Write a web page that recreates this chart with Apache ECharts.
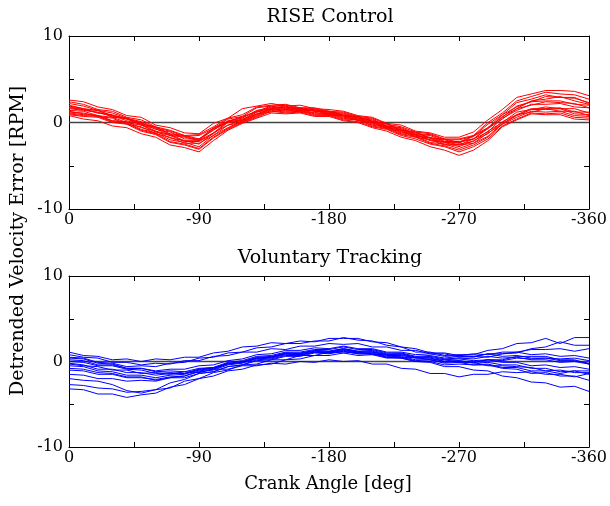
<!DOCTYPE html>
<html>
<head>
<meta charset="utf-8">
<script src="https://cdn.jsdelivr.net/npm/echarts@6/dist/echarts.min.js"></script>
<style>
  html, body { margin: 0; padding: 0; background: #fff; }
  #main { width: 610px; height: 506px; }
</style>
</head>
<body>
<div id="main"></div>
<script>
// crank angle samples (deg), plotted as negative angles
var angles = [0,10,20,30,40,50,60,70,80,90,100,110,120,130,140,150,160,170,180,190,200,210,220,230,240,250,260,270,280,290,300,310,320,330,340,350,360];
var xTickLabels = [0, -90, -180, -270, -360];
var yTickLabels = [-10, 0, 10];

// RISE control trials (RPM)
var rise1  = [2.6,2.4,1.8,1.5,0.8,0.6,-0.3,-0.6,-1.2,-1.3,-0.1,0.5,1.6,1.9,2.2,1.9,2.0,1.6,1.5,1.3,0.8,0.6,-0.1,-0.3,-1.0,-1.2,-1.7,-1.7,-1.1,0.3,1.5,2.9,3.3,3.7,3.7,3.6,3.1];
var rise2  = [0.8,0.4,0.2,-0.4,-0.6,-1.3,-1.7,-2.6,-2.9,-3.4,-2.1,-0.9,-0.1,0.5,1.1,1.0,1.1,0.7,0.7,0.2,0.0,-0.6,-1.0,-1.7,-2.1,-2.8,-3.2,-3.8,-3.2,-2.1,-0.5,0.3,1.0,0.9,0.9,0.4,0.3];
var rise3  = [1.8,1.5,1.4,0.6,0.5,-0.2,-0.5,-1.4,-1.6,-2.0,-0.6,0.1,0.6,1.3,1.9,1.6,1.7,1.4,1.3,0.8,0.7,0.1,-0.1,-0.9,-1.1,-1.8,-1.9,-2.3,-1.5,-0.6,0.9,1.8,2.4,2.5,2.5,2.1,2.0];
var rise4  = [1.2,1.1,0.7,0.5,-0.2,-0.5,-1.3,-1.7,-2.4,-2.4,-1.5,-0.3,0.0,1.0,1.2,1.5,1.2,1.2,0.8,0.8,0.2,0.0,-0.7,-1.0,-1.7,-2.0,-2.6,-2.6,-2.4,-1.2,-0.2,0.9,1.2,1.6,1.3,1.3,0.8];
var rise5  = [2.2,1.9,1.4,1.1,0.5,0.1,-0.6,-1.0,-1.6,-1.5,-0.7,0.4,0.7,1.7,1.9,2.0,1.6,1.6,1.2,1.1,0.6,0.4,-0.4,-0.6,-1.3,-1.4,-2.0,-2.0,-1.6,-0.2,0.9,2.3,2.7,3.2,2.9,2.8,2.3];
var rise6  = [1.0,0.8,0.7,0.1,-0.1,-0.9,-1.3,-2.2,-2.5,-3.0,-1.7,-0.7,0.1,0.7,1.4,1.2,1.3,0.9,0.9,0.4,0.3,-0.4,-0.7,-1.4,-1.7,-2.4,-2.7,-3.2,-2.6,-1.7,-0.2,0.6,1.3,1.2,1.3,0.8,0.7];
var rise7  = [1.6,1.4,1.2,0.7,0.4,-0.3,-0.7,-1.5,-1.7,-2.1,-0.8,0.0,0.4,1.0,1.6,1.5,1.6,1.3,1.2,0.7,0.6,-0.1,-0.4,-1.1,-1.4,-2.0,-2.2,-2.6,-1.9,-1.1,0.5,1.4,2.1,2.1,2.2,1.8,1.7];
var rise8  = [1.4,1.3,0.8,0.6,0.0,-0.3,-1.1,-1.5,-2.2,-2.2,-1.3,0.0,0.2,1.2,1.5,1.7,1.3,1.4,0.9,0.8,0.3,0.1,-0.6,-0.9,-1.6,-1.8,-2.5,-2.5,-2.2,-1.0,0.0,1.2,1.5,1.8,1.6,1.6,1.1];
var rise9  = [2.0,1.6,1.4,0.8,0.5,-0.1,-0.6,-1.3,-1.5,-1.9,-0.7,0.1,0.7,1.2,1.8,1.7,1.7,1.3,1.3,0.8,0.7,0.1,-0.2,-0.9,-1.2,-1.8,-2.0,-2.4,-1.6,-0.7,0.7,1.6,2.5,2.7,3.0,2.5,2.1];
var rise10 = [0.9,0.7,0.6,0.0,-0.2,-1.0,-1.4,-2.3,-2.6,-3.1,-1.8,-0.8,0.0,0.6,1.3,1.1,1.2,0.8,0.8,0.3,0.1,-0.5,-0.8,-1.5,-1.9,-2.5,-2.8,-3.4,-2.8,-1.9,-0.4,0.4,1.1,1.0,1.1,0.6,0.5];
var rise11 = [1.7,1.5,1.1,0.8,0.2,-0.2,-1.0,-1.4,-2.1,-2.1,-1.2,0.1,0.3,1.3,1.6,1.8,1.4,1.4,1.0,0.9,0.4,0.2,-0.5,-0.8,-1.5,-1.7,-2.3,-2.3,-1.9,-0.7,0.4,1.6,2.0,2.4,2.3,2.2,1.7];
var rise12 = [1.3,1.0,0.8,0.2,0.1,-0.6,-1.0,-1.8,-2.1,-2.5,-1.2,-0.3,0.3,0.9,1.6,1.4,1.5,1.1,1.1,0.6,0.4,-0.2,-0.5,-1.2,-1.4,-2.1,-2.3,-2.8,-2.1,-1.3,0.1,0.9,1.6,1.6,1.7,1.2,1.2];
var rise13 = [2.4,2.1,1.5,1.3,0.6,0.3,-0.5,-0.9,-1.5,-1.4,-0.5,0.5,0.9,1.8,2.0,2.1,1.7,1.7,1.3,1.2,0.7,0.5,-0.2,-0.5,-1.1,-1.3,-1.9,-1.9,-1.5,0.0,1.1,2.5,3.0,3.5,3.3,3.2,2.7];
var rise14 = [1.1,0.9,0.8,0.2,0.0,-0.8,-1.2,-2.0,-2.3,-2.8,-1.5,-0.6,0.2,0.8,1.5,1.3,1.4,1.0,1.0,0.5,0.3,-0.3,-0.6,-1.3,-1.6,-2.3,-2.5,-3.0,-2.4,-1.6,-0.1,0.8,1.5,1.5,1.6,1.0,0.9];
var rise15 = [1.9,1.6,1.1,0.9,0.4,0.0,-0.8,-1.1,-1.9,-1.9,-0.9,0.2,0.5,1.4,1.7,1.9,1.5,1.5,1.1,1.0,0.5,0.3,-0.4,-0.7,-1.4,-1.5,-2.2,-2.2,-1.9,-0.6,0.6,1.9,2.4,3.0,2.9,2.9,2.2];

// voluntary tracking trials (RPM)
var vol1  = [0.5,0.4,-0.1,-0.2,-0.6,-0.5,-0.6,-0.2,-0.1,0.4,0.5,1.0,1.1,1.6,1.7,2.1,2.1,2.4,2.4,2.8,2.5,2.4,1.9,1.7,1.1,1.1,0.7,0.8,0.8,1.3,1.5,2.1,2.2,2.7,2.1,2.8,2.8];
var vol2  = [-3.2,-3.3,-3.8,-3.8,-4.2,-3.9,-3.7,-3.0,-2.7,-2.0,-1.7,-1.1,-0.9,-0.4,-0.3,0.2,0.3,0.7,0.7,1.0,0.7,0.8,0.4,0.4,0.0,0.0,-0.4,-0.3,-0.4,-0.4,-0.8,-0.9,-1.4,-1.3,-1.7,-1.7,-2.2];
var vol3  = [-2.7,-2.8,-3.1,-3.2,-3.6,-3.5,-3.3,-2.5,-2.1,-1.4,-1.2,-0.6,-0.4,0.1,0.2,0.6,0.6,1.0,0.9,1.2,0.9,0.9,0.5,0.4,0.0,-0.1,-0.6,-0.6,-1.0,-1.1,-1.7,-1.9,-2.4,-2.5,-3.0,-2.9,-3.5];
var vol4  = [-2.0,-2.2,-2.3,-2.7,-3.4,-3.7,-3.3,-3.1,-2.3,-2.0,-1.3,-1.0,-0.4,-0.3,0.2,0.2,0.7,0.7,1.1,1.0,1.1,0.8,0.8,0.4,0.5,0.2,0.2,-0.1,-0.1,-0.5,-0.5,-0.6,-0.7,-1.1,-1.0,-1.3,-1.3];
var vol5  = [1.1,0.7,0.6,0.2,0.3,0.0,0.3,0.2,0.5,0.5,1.0,1.2,1.7,1.8,2.2,2.1,2.4,2.3,2.7,2.7,2.7,2.3,2.2,1.7,1.5,1.0,1.0,0.7,0.9,0.8,1.1,1.1,1.4,1.4,1.5,1.2,1.5];
var vol6  = [0.0,-0.1,-0.5,-0.5,-0.9,-1.0,-1.4,-1.3,-1.4,-0.9,-0.7,-0.1,0.1,0.6,0.7,1.1,1.1,1.4,1.4,1.7,1.4,1.4,1.0,1.0,0.6,0.7,0.4,0.6,0.5,0.9,0.9,1.1,0.8,0.9,0.6,0.7,0.4];
var vol7  = [-0.5,-0.6,-1.1,-1.2,-1.6,-1.6,-1.9,-1.6,-1.5,-1.0,-0.8,-0.3,-0.1,0.4,0.5,1.0,0.9,1.2,1.1,1.4,1.1,1.1,0.7,0.7,0.4,0.4,0.0,0.1,-0.2,-0.1,-0.4,-0.4,-0.8,-0.8,-1.2,-1.1,-1.5];
var vol8  = [0.4,0.3,-0.2,-0.3,-0.8,-0.8,-1.2,-1.1,-1.2,-0.8,-0.7,-0.2,0.0,0.5,0.6,1.0,1.0,1.3,1.2,1.5,1.2,1.2,0.8,0.9,0.5,0.6,0.3,0.4,0.3,0.6,0.4,0.5,0.2,0.2,-0.1,0.0,-0.3];
var vol9  = [-1.0,-1.1,-1.5,-1.5,-1.9,-1.9,-2.1,-1.8,-1.7,-1.2,-1.0,-0.4,-0.2,0.3,0.4,0.8,0.8,1.1,1.0,1.2,0.9,0.9,0.5,0.5,0.1,0.2,-0.1,0.0,-0.1,0.2,0.1,0.4,0.3,0.4,0.3,0.4,0.1];
var vol10 = [-0.3,-0.5,-0.6,-1.0,-1.0,-1.4,-1.3,-1.5,-1.2,-1.3,-0.9,-0.9,-0.5,-0.5,-0.2,-0.3,0.0,-0.1,0.2,0.0,0.1,-0.3,-0.3,-0.8,-0.9,-1.4,-1.4,-1.8,-1.5,-1.5,-1.2,-1.3,-1.2,-1.5,-1.5,-1.8,-1.4];
var vol11 = [0.8,0.5,0.4,-0.1,-0.1,-0.4,-0.2,-0.3,0.1,0.1,0.6,0.7,1.1,1.1,1.5,1.4,1.8,1.8,2.1,2.0,2.1,1.7,1.7,1.3,1.3,0.9,0.9,0.5,0.6,0.5,0.9,1.0,1.5,1.7,2.3,1.9,1.9];
var vol12 = [-0.8,-0.9,-1.3,-1.4,-1.8,-1.8,-2.2,-1.9,-1.9,-1.4,-1.2,-0.6,-0.4,0.2,0.3,0.7,0.7,1.1,1.0,1.3,1.0,1.0,0.6,0.6,0.2,0.2,-0.2,-0.1,-0.4,-0.3,-0.7,-0.7,-1.1,-1.1,-1.4,-1.1,-1.1];
var vol13 = [0.2,0.1,-0.4,-0.4,-0.8,-0.8,-1.1,-0.9,-0.9,-0.5,-0.4,0.1,0.3,0.8,0.9,1.3,1.3,1.6,1.5,1.8,1.5,1.5,1.1,1.1,0.8,0.9,0.6,0.7,0.6,0.9,0.6,0.7,0.4,0.4,0.1,0.1,-0.2];
var vol14 = [-0.2,-0.4,-0.9,-0.9,-1.3,-1.3,-1.6,-1.4,-1.4,-0.9,-0.8,-0.2,-0.1,0.4,0.5,0.9,0.9,1.3,1.2,1.5,1.2,1.3,0.9,0.9,0.5,0.5,0.2,0.3,0.1,0.2,-0.1,-0.1,-0.5,-0.4,-0.7,-0.6,-0.9];
var vol15 = [-1.5,-1.6,-2.0,-2.0,-2.3,-2.2,-2.3,-1.9,-1.7,-1.1,-0.9,-0.3,-0.1,0.4,0.5,0.9,0.8,1.1,1.1,1.4,1.1,1.1,0.8,0.8,0.4,0.4,0.0,0.1,-0.1,0.2,0.2,0.6,0.6,0.6,0.2,0.2,-0.3];

var riseTrials = [rise1,rise2,rise3,rise4,rise5,rise6,rise7,rise8,rise9,rise10,rise11,rise12,rise13,rise14,rise15];
var volTrials = [vol1,vol2,vol3,vol4,vol5,vol6,vol7,vol8,vol9,vol10,vol11,vol12,vol13,vol14,vol15];

var FONT = '"DejaVu Serif", "Liberation Serif", serif';

function pairs(vals){
  var out = [];
  for (var i = 0; i < angles.length; i++) out.push([-angles[i], vals[i]]);
  return out;
}

// 4 x axes / 4 y axes (bottom+top, left+right per panel), ticks pointing inward
var xAxes = [], yAxes = [];
var boxLine = { show: true, onZero: false, lineStyle: { color: '#000', width: 1 } };
var inTick = { show: true, inside: true, length: 5, lineStyle: { color: '#000' } };
for (var g = 0; g < 2; g++) {
  xAxes.push({
    gridIndex: g, type: 'value', min: -360, max: 0, interval: 45, inverse: true,
    position: 'bottom', axisLine: boxLine, axisTick: inTick,
    axisLabel: {
      color: '#000', fontFamily: FONT, fontSize: 16, margin: 3,
      formatter: function(v){ return xTickLabels.indexOf(v) >= 0 ? String(v) : ''; }
    },
    splitLine: { show: false }
  });
  xAxes.push({
    gridIndex: g, type: 'value', min: -360, max: 0, interval: 45, inverse: true,
    position: 'top', axisLine: boxLine, axisTick: inTick,
    axisLabel: { show: false }, splitLine: { show: false }
  });
  yAxes.push({
    gridIndex: g, type: 'value', min: -10, max: 10, interval: 5,
    position: 'left', axisLine: boxLine, axisTick: inTick,
    axisLabel: {
      color: '#000', fontFamily: FONT, fontSize: 16, margin: 6,
      formatter: function(v){ return yTickLabels.indexOf(v) >= 0 ? String(v) : ''; }
    },
    splitLine: { show: false }
  });
  yAxes.push({
    gridIndex: g, type: 'value', min: -10, max: 10, interval: 5,
    position: 'right', axisLine: boxLine, axisTick: inTick,
    axisLabel: { show: false }, splitLine: { show: false }
  });
}

var series = [];
// zero reference lines
[0, 1].forEach(function(g){
  series.push({
    type: 'line', xAxisIndex: g * 2, yAxisIndex: g * 2,
    data: [[0, 0], [-360, 0]], symbol: 'none', silent: true,
    lineStyle: { color: '#444', width: 1.5 }, z: 1
  });
});
riseTrials.forEach(function(t){
  series.push({
    type: 'line', xAxisIndex: 0, yAxisIndex: 0, data: pairs(t),
    symbol: 'none', lineStyle: { color: '#ff0000', width: 1 }, z: 2
  });
});
volTrials.forEach(function(t){
  series.push({
    type: 'line', xAxisIndex: 2, yAxisIndex: 2, data: pairs(t),
    symbol: 'none', lineStyle: { color: '#0000ff', width: 1 }, z: 2
  });
});

var chart = echarts.init(document.getElementById('main'));
chart.setOption({
  animation: false,
  backgroundColor: '#fff',
  grid: [
    { left: 69, right: 16, top: 36, height: 173 },
    { left: 69, right: 16, top: 276, height: 171 }
  ],
  xAxis: xAxes,
  yAxis: yAxes,
  graphic: [
    { type: 'text', x: 330, y: 17, style: { text: 'RISE Control', font: '19px ' + FONT,
      fill: '#000', textAlign: 'center', textVerticalAlign: 'middle' } },
    { type: 'text', x: 330, y: 258, style: { text: 'Voluntary Tracking', font: '19px ' + FONT,
      fill: '#000', textAlign: 'center', textVerticalAlign: 'middle' } },
    { type: 'text', x: 328, y: 484, style: { text: 'Crank Angle [deg]', font: '18px ' + FONT,
      fill: '#000', textAlign: 'center', textVerticalAlign: 'middle' } },
    { type: 'text', x: 18, y: 241, rotation: Math.PI / 2, style: { text: 'Detrended Velocity Error [RPM]',
      font: '19px ' + FONT, fill: '#000', textAlign: 'center', textVerticalAlign: 'middle' } }
  ],
  series: series
});
</script>
</body>
</html>
